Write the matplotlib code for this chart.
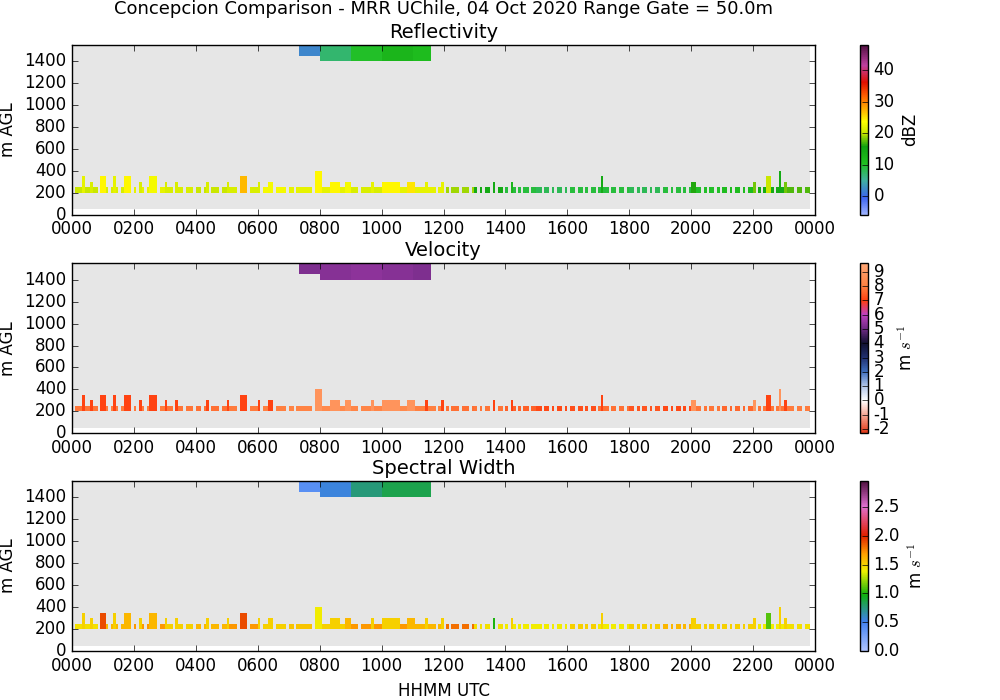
import numpy as np
import matplotlib
matplotlib.use("Agg")
import matplotlib.pyplot as plt
from matplotlib.colors import LinearSegmentedColormap

plt.style.use('classic')
plt.rcParams['axes.unicode_minus'] = False

# ---- data ----
# presence of the lower echo band (200-250 m) per 5-min slot, one string per hour
band = ['011101111101', '110111011110', '101101111011', '111011101110',
        '110110111011', '111101110111', '101111011110', '110111111011',
        '111111101111', '111011111111', '111111111101', '111111111011',
        '010111011101', '101011010110', '101101011011', '110110101101',
        '011011010110', '101101101101', '110101101011', '011010110101',
        '101101011010', '110101101011', '101011010111', '111101101101']
# reflectivity (dBZ), velocity, spectral width per hour in lower band
low_refl = [20, 21, 22, 21, 20, 21, 23, 22, 22, 21, 22, 22,
            19, 14, 9, 8, 9, 9, 8, 9, 10, 11, 14, 17]
low_vel = [7.8, 7.9, 7.9, 7.8, 7.7, 7.9, 8.0, 8.1, 8.3, 8.2, 8.3, 8.0,
           7.7, 7.8, 7.5, 7.1, 7.2, 7.7, 7.3, 7.1, 7.8, 7.6, 7.8, 7.9]
low_sw = [1.45, 1.6, 1.7, 1.5, 1.6, 1.7, 1.5, 1.55, 1.5, 1.7, 1.7, 1.6,
          1.8, 1.45, 1.4, 1.4, 1.5, 1.4, 1.5, 1.6, 1.5, 1.5, 1.4, 1.45]
# taller echo columns: start hour, duration (h), top (m)
tall_start = [0.3, 0.55, 0.9, 1.3, 1.7, 2.2, 2.5, 3.0, 3.35, 4.3, 5.0, 5.4, 6.0, 6.3,
              7.8, 8.3, 8.8, 9.7, 10.0, 10.8, 11.4, 11.9, 13.6, 14.2, 17.1, 20.0,
              22.0, 22.4, 22.8, 23.0]
tall_dur = [0.08, 0.08, 0.2, 0.08, 0.2, 0.08, 0.25, 0.08, 0.08, 0.08, 0.08, 0.3, 0.08, 0.2,
            0.25, 0.4, 0.2, 0.08, 0.6, 0.3, 0.08, 0.08, 0.08, 0.08, 0.08, 0.2,
            0.08, 0.2, 0.08, 0.08]
tall_top = [350, 300, 350, 350, 350, 300, 350, 300, 300, 300, 300, 350, 300, 300,
            400, 300, 300, 300, 300, 300, 300, 300, 300, 300, 350, 300,
            300, 350, 400, 300]
tall_refl = [22, 21, 24, 22, 24, 21, 23, 21, 21, 21, 21, 27, 21, 23,
             24, 24, 23, 22, 24, 25, 22, 22, 14, 12, 14, 16,
             18, 20, 14, 18]
tall_vel = [7.0, 7.0, 7.0, 7.0, 7.0, 7.0, 7.0, 7.0, 7.0, 7.0, 7.0, 7.0, 7.0, 7.0,
            8.8, 8.8, 8.8, 8.8, 8.8, 8.8, 7.0, 7.0, 7.0, 7.0, 7.0, 8.8,
            8.8, 7.0, 8.8, 7.0]
tall_sw = [1.5, 1.5, 1.9, 1.5, 1.6, 1.5, 1.6, 1.5, 1.5, 1.5, 1.5, 1.9, 1.5, 1.5,
           1.4, 1.5, 1.6, 1.5, 1.5, 1.6, 1.5, 1.5, 1.0, 1.5, 1.5, 1.5,
           1.5, 1.1, 1.5, 1.5]
# upper layer (hours 7-11)
up_start, up_end = 7.3, 11.6
up_bottom = [1450, 1400, 1400, 1400, 1400]
up_refl = [2, 7, 10, 12, 11]
up_vel = [5.2, 5.3, 5.4, 5.3, 5.2]
up_sw = [0.4, 0.55, 0.75, 0.85, 0.85]

gate = 50.0
t_edges = np.arange(0, 23.84, 5 / 60.0)
z_edges = np.arange(50, 1551, gate)
tc = 0.5 * (t_edges[:-1] + t_edges[1:])
zc = 0.5 * (z_edges[:-1] + z_edges[1:])


def build(low, tall, up):
    F = np.full((len(zc), len(tc)), np.nan)
    for j, t in enumerate(tc):
        h = int(t)
        s = min(int(round((t - h) * 12 - 0.5)), 11)
        for i, z in enumerate(zc):
            if 200 <= z < 250 and band[h][s] == '1':
                F[i, j] = low[h]
            if up_start <= t <= up_end:
                k = min(h - 7, 4)
                if z >= up_bottom[k]:
                    F[i, j] = up[k]
        for k in range(len(tall_start)):
            if tall_start[k] <= t < tall_start[k] + max(tall_dur[k], 0.084):
                for i, z in enumerate(zc):
                    if 200 <= z < tall_top[k]:
                        F[i, j] = tall[k]
    return F


R = build(low_refl, tall_refl, up_refl)
V = build(low_vel, tall_vel, up_vel)
W = build(low_sw, tall_sw, up_sw)

cm_r = LinearSegmentedColormap.from_list('r', [
    (0.0, '#a0b4ff'), (0.1, '#3c64f0'), (0.2, '#40b0a0'), (0.3, '#20c020'),
    (0.4, '#10a010'), (0.48, '#c8e600'), (0.55, '#ffff00'), (0.62, '#ffb000'),
    (0.7, '#ff6000'), (0.78, '#e01000'), (0.88, '#c040a0'), (1.0, '#501040')])
cm_v = LinearSegmentedColormap.from_list('v', [
    (0.0, '#e03818'), (0.1, '#f4a08c'), (0.19, '#ffffff'), (0.277, '#b0c4e8'),
    (0.36, '#4070c0'), (0.445, '#203070'), (0.53, '#101030'), (0.61, '#6a2a80'),
    (0.70, '#c040c0'), (0.78, '#ff4010'), (0.865, '#ff8040'), (1.0, '#ffa878')])
cm_w = LinearSegmentedColormap.from_list('w', [
    (0.0, '#b0c4ff'), (0.17, '#4080f0'), (0.33, '#10b010'), (0.47, '#f0f000'),
    (0.57, '#ffa000'), (0.68, '#e02000'), (0.85, '#e070d0'), (1.0, '#501040')])
for c in (cm_r, cm_v, cm_w):
    c.set_bad('0.9')

fig = plt.figure(figsize=(10, 7), dpi=100, facecolor='white')
fig.text(0.443, 1.0, 'Concepcion Comparison - MRR UChile, 04 Oct 2020 Range Gate = 50.0m',
         ha='center', va='top', fontsize=13)

specs = [
    (0.693, R, cm_r, -6, 48, 'Reflectivity', 'dBZ', [0, 10, 20, 30, 40]),
    (0.381, V, cm_v, -2.3, 9.6, 'Velocity', r'm $s^{-1}$', list(range(-2, 10))),
    (0.070, W, cm_w, 0, 2.95, 'Spectral Width', r'm $s^{-1}$', [0.0, 0.5, 1.0, 1.5, 2.0, 2.5]),
]
for bot, F, cm, vmin, vmax, title, unit, ticks in specs:
    ax = fig.add_axes([0.072, bot, 0.743, 0.243])
    m = ax.pcolormesh(t_edges, z_edges, np.ma.masked_invalid(F), cmap=cm,
                      vmin=vmin, vmax=vmax, shading='flat')
    ax.set_xlim(0, 24)
    ax.set_ylim(0, 1550)
    ax.set_xticks(range(0, 25, 2))
    ax.set_xticklabels(['%02d00' % (h % 24) for h in range(0, 25, 2)])
    ax.set_yticks(range(0, 1401, 200))
    ax.set_ylabel('m AGL')
    ax.set_title(title, fontsize=14, pad=5)
    cax = fig.add_axes([0.86, bot, 0.008, 0.243])
    cb = fig.colorbar(m, cax=cax, ticks=ticks)
    if title == 'Spectral Width':
        cb.ax.set_yticklabels(['%.1f' % t for t in ticks])
    cb.set_label(unit)
    if title == 'Spectral Width':
        ax.set_xlabel('HHMM UTC')

fig.savefig('out.png', dpi=100)
